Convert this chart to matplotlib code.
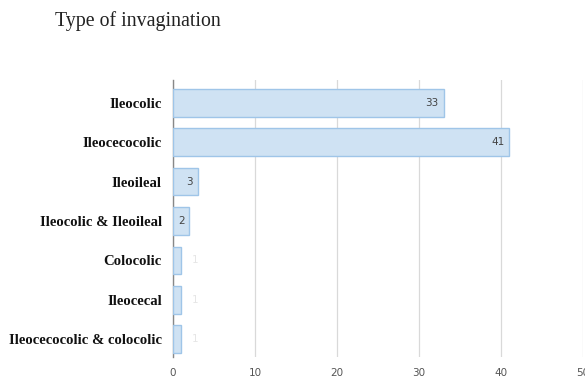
import matplotlib
matplotlib.use("Agg")
import matplotlib.pyplot as plt

categories = ["Ileocolic", "Ileocecocolic", "Ileoileal", "Ileocolic & Ileoileal",
              "Colocolic", "Ileocecal", "Ileocecocolic & colocolic"]
values = [33, 41, 3, 2, 1, 1, 1]
xticks = [0, 10, 20, 30, 40, 50]

fig = plt.figure(figsize=(5.85, 3.87), dpi=100)
ax = fig.add_axes([0.2957, 0.0775, 0.7009, 0.7158])

ypos = list(range(len(categories)))
ax.barh(ypos, values, height=0.7, color="#cfe2f3", edgecolor="#9fc5e8", linewidth=1.0, zorder=3)

for y, v in zip(ypos, values):
    if v >= 2:
        ax.text(v - 0.6, y, str(v), ha="right", va="center", fontsize=7.5, color="#444444",
                family="DejaVu Sans", zorder=4)
    else:
        ax.text(v + 1.3, y, str(v), ha="left", va="center", fontsize=7.5, color="#e6e6e6",
                family="DejaVu Sans", zorder=4)

ax.set_xlim(0, 50)
ax.set_ylim(len(categories) - 0.55, -0.58)
ax.set_xticks(xticks)
ax.set_xticklabels([str(t) for t in xticks], fontsize=7.5, color="#555555", family="DejaVu Sans")
ax.set_yticks(ypos)
ax.set_yticklabels(categories, fontsize=10.6, fontweight="bold", family="Liberation Serif", color="#111111")
ax.tick_params(axis="both", length=0)
ax.tick_params(axis="y", pad=8)
ax.tick_params(axis="x", pad=8)
ax.grid(axis="x", color="#d9d9d9", linewidth=0.9, zorder=0)
for s in ["top", "right", "bottom"]:
    ax.spines[s].set_visible(False)
ax.spines["left"].set_color("#888888")
ax.spines["left"].set_linewidth(1.0)

fig.text(0.094, 0.945, "Type of invagination", fontsize=14.3, family="Liberation Serif",
         color="#222222", ha="left", va="center")

fig.savefig("out.png", dpi=100)
